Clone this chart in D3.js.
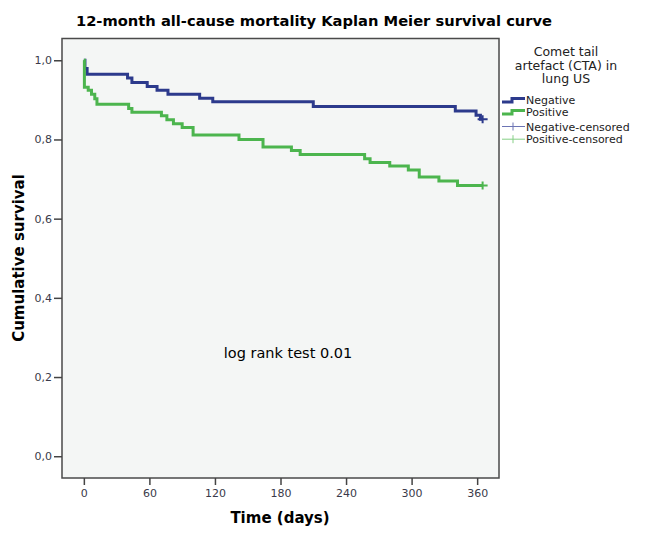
<!DOCTYPE html>
<html>
<head>
<meta charset="utf-8">
<script src="https://cdn.jsdelivr.net/npm/d3@7"></script>
<style>
  body { margin: 0; background: #fff; }
  text { font-family: "DejaVu Sans", sans-serif; }
</style>
</head>
<body>
<div id="chart"></div>
<script>
// Kaplan Meier steps
var negTime = [0, 1, 3, 40, 44, 58, 67, 77, 106, 118, 210, 340, 359, 363, 365];
var negSurv = [1.0, 0.979, 0.965, 0.955, 0.944, 0.934, 0.924, 0.914, 0.904, 0.895, 0.883, 0.872, 0.861, 0.851, 0.851];
var posTime = [0, 0.5, 4, 7, 10, 12, 41, 44, 71, 76, 82, 90, 100, 142, 164, 190, 198, 257, 262, 280, 297, 307, 325, 342, 365];
var posSurv = [1.0, 0.932, 0.924, 0.914, 0.903, 0.889, 0.878, 0.869, 0.860, 0.850, 0.840, 0.830, 0.811, 0.800, 0.781, 0.772, 0.762, 0.751, 0.742, 0.733, 0.723, 0.705, 0.695, 0.684, 0.684];
var negCensored = [365];
var posCensored = [365];

var xTicks = [0, 60, 120, 180, 240, 300, 360];
var yTicks = [0, 0.2, 0.4, 0.6, 0.8, 1.0];
var groups = ["Negative", "Positive"];
var legendTitle = ["Comet tail", "artefact (CTA) in", "lung US"];

var width = 665, height = 536;
var colors = { Negative: "#2c3a8c", Positive: "#4cb54e" };
var censColors = { Negative: "#6c74b4", Positive: "#86cf86" };

var svg = d3.select("#chart").append("svg")
    .attr("width", width)
    .attr("height", height);

var x = d3.scaleLinear().domain([-20, 380]).range([62, 499]);
var y = d3.scaleLinear().domain([-0.055, 1.055]).range([478, 38.5]);

// plot background + frame
svg.append("rect")
    .attr("x", x.range()[0]).attr("y", y.range()[1])
    .attr("width", x.range()[1] - x.range()[0])
    .attr("height", y.range()[0] - y.range()[1])
    .attr("fill", "#f4f6f5")
    .attr("stroke", "#4a4a4a")
    .attr("stroke-width", 1.5);

var fmt = function(d) { return d3.format(".1f")(d).replace(".", ","); };

var xAxis = svg.append("g")
    .attr("transform", "translate(0," + y.range()[0] + ")")
    .call(d3.axisBottom(x).tickValues(xTicks).tickSize(7).tickPadding(4));
var yAxis = svg.append("g")
    .attr("transform", "translate(" + x.range()[0] + ",0)")
    .call(d3.axisLeft(y).tickValues(yTicks).tickFormat(fmt).tickSize(8).tickPadding(2));

[xAxis, yAxis].forEach(function(a) {
  a.select(".domain").remove();
  a.selectAll("line").attr("stroke", "#444").attr("stroke-width", 1.5);
  a.selectAll("text").attr("fill", "#3a3a4a").style("font-size", "11px")
    .style("font-family", "DejaVu Sans, sans-serif");
});

var line = d3.line()
    .x(function(d) { return x(d[0]); })
    .y(function(d) { return y(d[1]); })
    .curve(d3.curveStepAfter);

var series = {
  Negative: d3.zip(negTime, negSurv),
  Positive: d3.zip(posTime, posSurv)
};
var censored = { Negative: negCensored, Positive: posCensored };

// survival at a given time from the steps
function survAt(pts, t) {
  var s = pts[0][1];
  pts.forEach(function(p) { if (p[0] <= t) s = p[1]; });
  return s;
}

groups.forEach(function(gname) {
  svg.append("path")
      .datum(series[gname])
      .attr("fill", "none")
      .attr("stroke", colors[gname])
      .attr("stroke-width", 3)
      .attr("d", line);

  censored[gname].forEach(function(t) {
    var cx = x(t), cy = y(survAt(series[gname], t));
    svg.append("path")
        .attr("d", "M" + (cx - 5) + "," + cy + "H" + (cx + 5) + "M" + cx + "," + (cy - 4) + "V" + (cy + 4))
        .attr("stroke", colors[gname])
        .attr("stroke-width", 2);
  });
});

// titles
svg.append("text")
    .attr("x", 314).attr("y", 26)
    .attr("text-anchor", "middle")
    .style("font-size", "14.7px").style("font-weight", "bold")
    .text("12-month all-cause mortality Kaplan Meier survival curve");

svg.append("text")
    .attr("x", 280).attr("y", 523)
    .attr("text-anchor", "middle")
    .style("font-size", "15px").style("font-weight", "bold")
    .text("Time (days)");

svg.append("text")
    .attr("transform", "translate(24,258) rotate(-90)")
    .attr("text-anchor", "middle")
    .style("font-size", "15px").style("font-weight", "bold")
    .text("Cumulative survival");

svg.append("text")
    .attr("x", 288).attr("y", 358)
    .attr("text-anchor", "middle")
    .style("font-size", "14.5px")
    .text("log rank test 0.01");

// legend
var lg = svg.append("g");
legendTitle.forEach(function(t, i) {
  lg.append("text")
      .attr("x", 566).attr("y", 56 + i * 13.5)
      .attr("text-anchor", "middle")
      .style("font-size", "12.5px")
      .attr("fill", "#222")
      .text(t);
});

groups.forEach(function(gname, i) {
  var yy = 100 + i * 12;
  lg.append("path")
      .attr("d", "M502," + (yy + 2) + "H512V" + (yy - 1.5) + "H525")
      .attr("fill", "none")
      .attr("stroke", colors[gname])
      .attr("stroke-width", 3);
  lg.append("text")
      .attr("x", 526).attr("y", yy + 4)
      .style("font-size", "11px").attr("fill", "#222")
      .text(gname);
});
groups.forEach(function(gname, i) {
  var yy = 126.5 + i * 12.7;
  lg.append("path")
      .attr("d", "M502," + yy + "H525M513," + (yy - 4) + "V" + (yy + 4))
      .attr("stroke", censColors[gname])
      .attr("stroke-width", 1);
  lg.append("text")
      .attr("x", 526).attr("y", yy + 4)
      .style("font-size", "11px").attr("fill", "#222")
      .text(gname + "-censored");
});
</script>
</body>
</html>
